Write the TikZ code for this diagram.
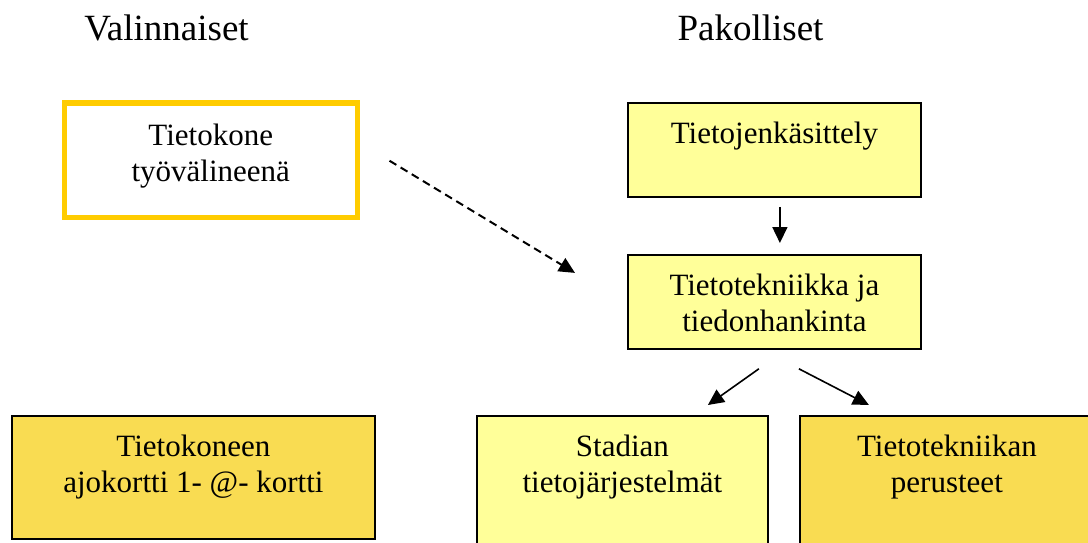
\documentclass[tikz,border=0pt]{standalone}
\usepackage{fontspec}
\setmainfont{Liberation Serif}
\usetikzlibrary{arrows.meta}

\definecolor{paleyellow}{HTML}{FFFF99}
\definecolor{goldyellow}{HTML}{F9DC52}
\definecolor{frameyellow}{HTML}{FFCC00}

\newcommand{\boxlines}[4][40.5pt]{%
  \parbox[c][#3][t]{#2}{\centering\fontsize{31}{36}\selectfont\rule{0pt}{#1}#4}}

\tikzset{
  card/.style={draw=black, line width=1.8pt, anchor=north west, inner sep=0pt},
  heading/.style={anchor=base, inner sep=0pt, font=\fontsize{37}{44}\selectfont},
  arrow/.style={-{Triangle[length=16pt,width=15pt]}, line width=1.6pt},
}

\begin{document}
\begin{tikzpicture}[x=1pt,y=-1pt]
  \clip (0,0) rectangle (1088,543);
  \fill[white] (0,0) rectangle (1088,543);

  \node[heading] (valinnaiset) at (166.5,41) {Valinnaiset};
  \node[heading] (pakolliset)  at (750.5,41) {Pakolliset};

  \node[card, draw=frameyellow, line width=5.5pt, fill=white] (valinta) at (61.5,100.5)
       {\boxlines[42.5pt]{293pt}{114pt}{Tietokone\\ työvälineenä}};
  \node[card, fill=paleyellow] (tk) at (627,102)
       {\boxlines{293pt}{94pt}{Tietojenkäsittely}};
  \node[card, fill=paleyellow] (tt) at (627,254)
       {\boxlines{293pt}{94pt}{Tietotekniikka ja\\ tiedonhankinta}};
  \node[card, fill=goldyellow] (ajokortti) at (11,415)
       {\boxlines{363pt}{123pt}{Tietokoneen\\ ajokortti 1- @- kortti}};
  \node[card, fill=paleyellow] (stadian) at (476,415)
       {\boxlines{291pt}{160pt}{Stadian\\ tietojärjestelmät}};
  \node[card, fill=goldyellow] (perusteet) at (799,415)
       {\boxlines{294pt}{160pt}{Tietotekniikan\\ perusteet}};

  % connectors
  \draw[arrow, line width=2pt, dash pattern=on 8pt off 5pt] ([shift={(29.5,0.5)}]valinta.east) -- ([shift={(-52,-29)}]tt.west);
  \draw[arrow] ([shift={(5.5,9)}]tk.south) -- ([shift={(5.5,-11)}]tt.north);
  \draw[arrow] ([shift={(-15.5,19)}]tt.south) -- ([shift={(85.5,-10)}]stadian.north);
  \draw[arrow] ([shift={(24.5,19)}]tt.south) -- ([shift={(-78,-10)}]perusteet.north);
\end{tikzpicture}
\end{document}
